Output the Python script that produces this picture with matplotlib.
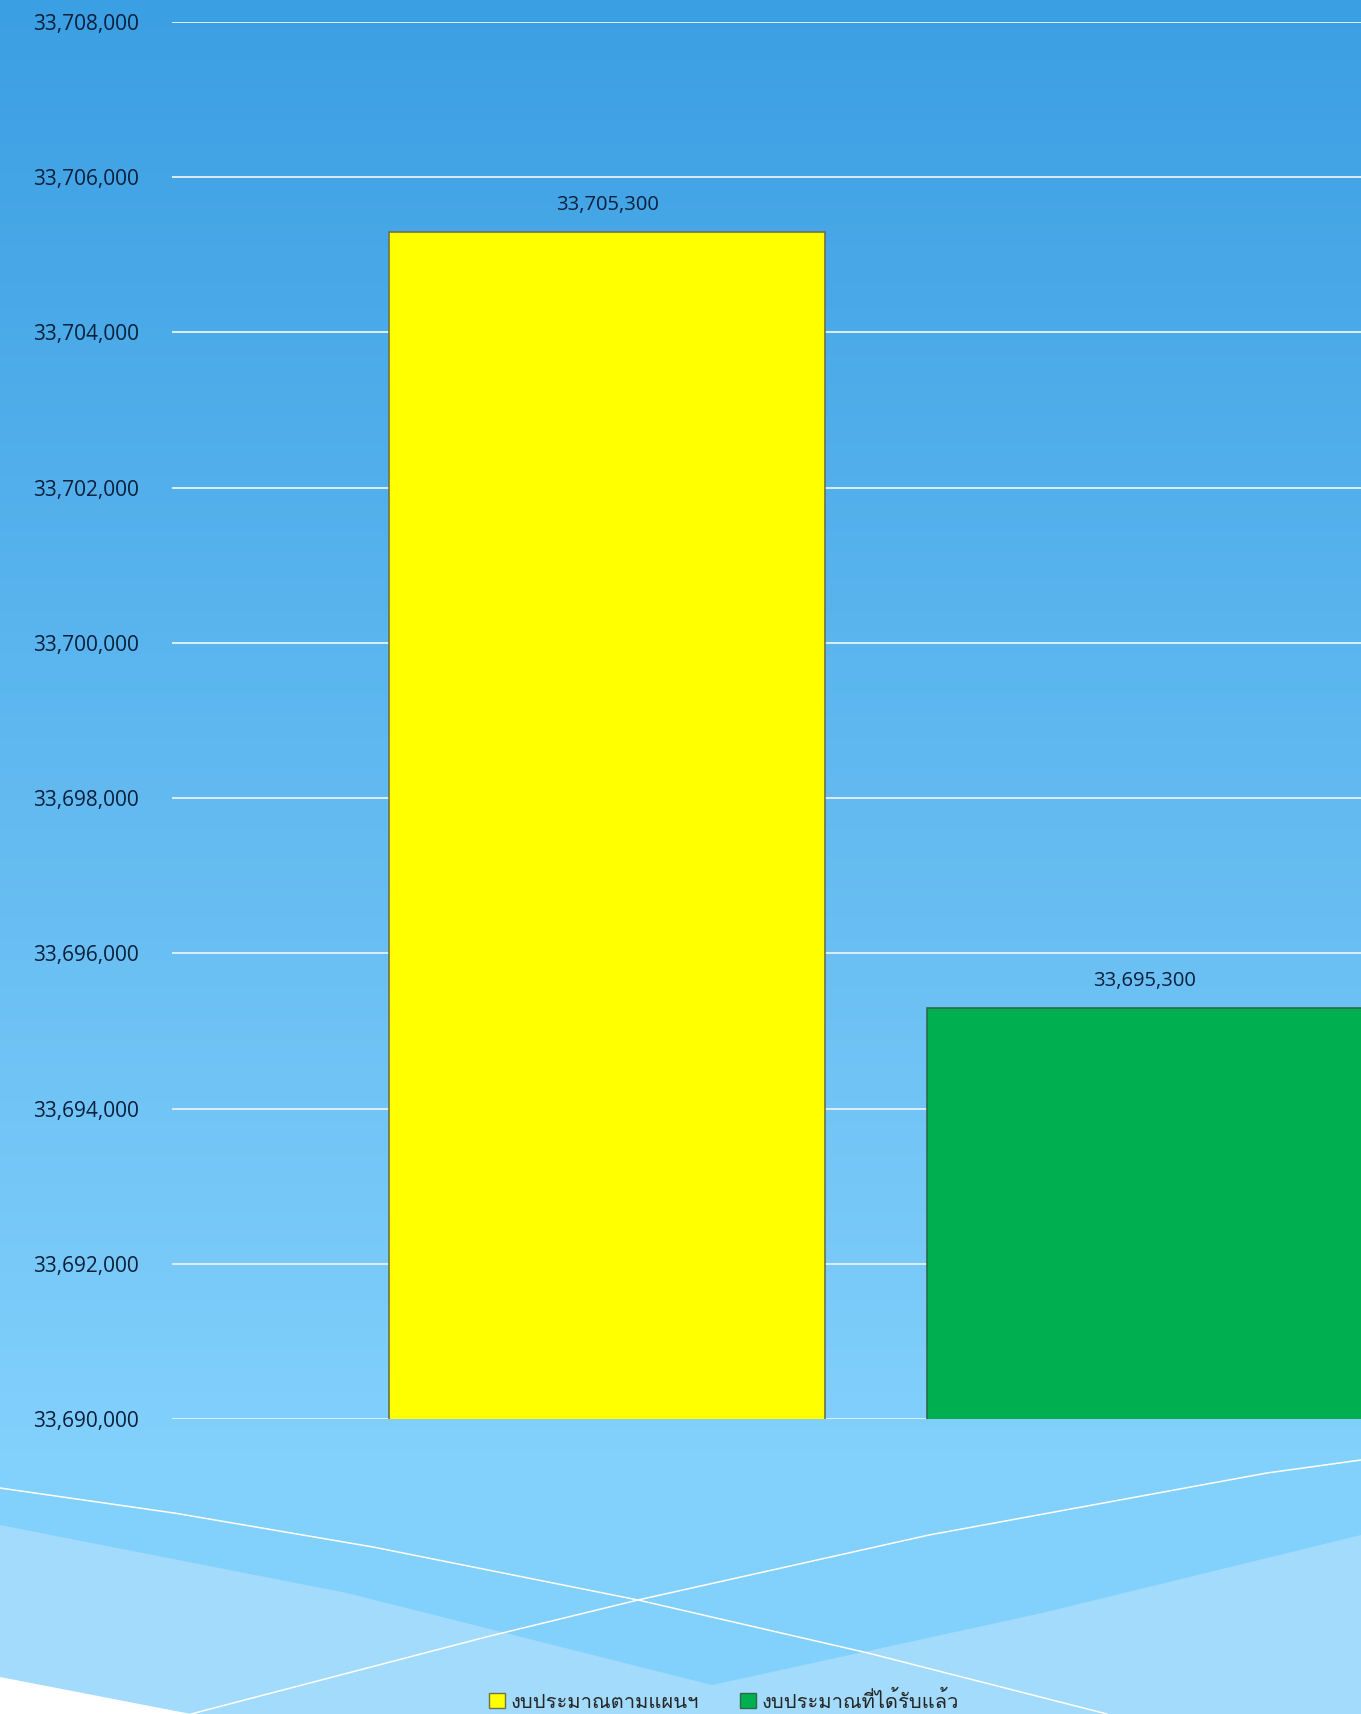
import numpy as np
import matplotlib.pyplot as plt
from matplotlib import font_manager
from matplotlib.ft2font import FT2Font
from matplotlib.patches import Patch

# Data
categories = ["งบประมาณตามแผนฯ", "งบประมาณที่ได้รับแล้ว"]
values = [33705300, 33695300]
bar_colors = ["#FFFF00", "#00B050"]
edge_colors = ["#6F7346", "#2C6A48"]
y_ticks = list(range(33690000, 33708001, 2000))

# find an installed font that has Thai glyphs
thai_font = "DejaVu Sans"
for f in font_manager.fontManager.ttflist:
    try:
        if 0x0E07 in FT2Font(f.fname).get_charmap():
            thai_font = f.name
            break
    except Exception:
        pass

W, H = 1361, 1714
fig = plt.figure(figsize=(W / 100, H / 100), dpi=100)

# background gradient + decorations (pixel coords)
bg = fig.add_axes([0, 0, 1, 1])
bg.set_xlim(0, W)
bg.set_ylim(H, 0)
bg.axis("off")
top = np.array([0x3B, 0x9F, 0xE3]) / 255
bottom = np.array([0x82, 0xD0, 0xFC]) / 255
t = np.clip(np.linspace(0, 1, H) * H / 1450, 0, 1)
img = top + (bottom - top) * t[:, None]
bg.imshow(img[:, None, :], extent=[0, W, H, 0], aspect="auto")

bg.fill([0, 347, 712, 1042, W, W, 0], [1525, 1593, 1685, 1613, 1535, H, H],
        color="#A2DBFB", lw=0)
bg.fill([0, 191, 0], [1677, H, H], color="white", lw=0)
bg.plot([0, 174, 373, 638, 868, 1107], [1488, 1513, 1547, 1600, 1653, 1714],
        color="white", lw=1.1)
bg.plot([191, 486, 638, 929, 1267, W], [1714, 1637, 1600, 1535, 1473, 1460],
        color="white", lw=1.1)

# chart axes (extends past right edge, like the original crop)
ax = fig.add_axes([172 / W, 1 - 1419 / H, 1408 / W, (1419 - 22) / H])
ax.set_facecolor("none")
x = np.arange(len(categories))
bars = ax.bar(x, values, width=0.81, color=bar_colors, edgecolor=edge_colors,
              linewidth=1.2, zorder=3)
ax.set_xlim(-0.8086, 1.8086)
ax.set_ylim(y_ticks[0], y_ticks[-1])
ax.set_yticks(y_ticks)
ax.set_yticklabels([f"{v:,}" for v in y_ticks], fontsize=15,
                   color="#0A1F3A", family="Open Sans", weight="medium")
ax.tick_params(axis="y", length=0, pad=24)
ax.set_xticks([])
for s in ax.spines.values():
    s.set_visible(False)
ax.grid(axis="y", color="#DDEEFA", lw=1.4, zorder=1)

for b, v in zip(bars, values):
    ax.annotate(f"{v:,}", (b.get_x() + b.get_width() / 2, v),
                xytext=(0, 12), textcoords="offset points", ha="center",
                va="bottom", fontsize=14.5, color="#0A1F3A", family="Open Sans",
                weight="medium")

# legend
handles = [Patch(facecolor=c, edgecolor=e, label=l)
           for c, e, l in zip(bar_colors, edge_colors, categories)]
fig.legend(handles=handles, loc="center", bbox_to_anchor=(724 / W, 1 - 1701 / H),
           ncol=2, frameon=False, handlelength=0.8, handleheight=0.8,
           handletextpad=0.3, columnspacing=2.0,
           prop={"family": [thai_font, "DejaVu Sans"], "size": 14.5},
           labelcolor="#262626")

fig.savefig("out.png", dpi=100)
